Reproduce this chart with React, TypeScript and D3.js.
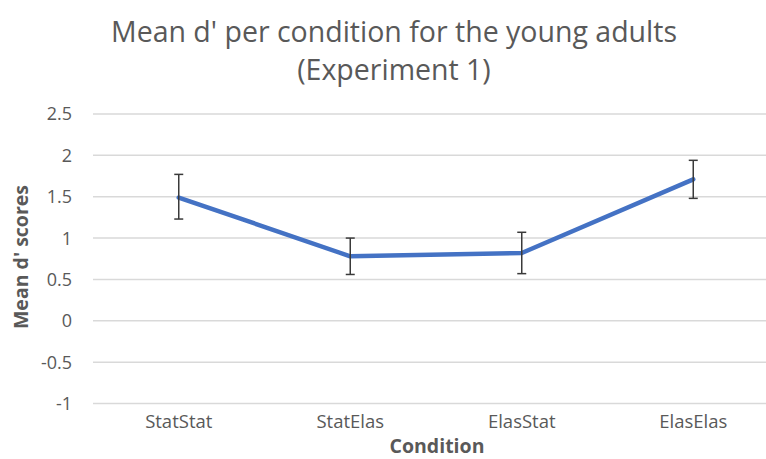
import React, { useEffect } from "react";
import * as d3 from "d3";

const categories = ["StatStat", "StatElas", "ElasStat", "ElasElas"];
const means = [1.49, 0.78, 0.82, 1.71];
const errLow = [1.23, 0.56, 0.57, 1.48];
const errHigh = [1.77, 1.0, 1.07, 1.94];
const yTicks = [-1, -0.5, 0, 0.5, 1, 1.5, 2, 2.5];
const titleLines = ["Mean d' per condition for the young adults", "(Experiment 1)"];
const xTitle = "Condition";
const yTitle = "Mean d' scores";

const W = 766;
const H = 459;
const FONT = "'Open Sans', sans-serif";
const TEXT = "#595959";

export default function App() {
  useEffect(() => {
    document.body.style.margin = "0";
  }, []);

  const x = d3.scaleBand<string>().domain(categories).range([93, 779]);
  const y = d3.scaleLinear().domain([-1, 2.5]).range([403.5, 114]);
  const cx = (c: string) => (x(c) as number) + x.bandwidth() / 2;

  const line = d3
    .line<number>()
    .x((_, i) => cx(categories[i]))
    .y((d) => y(d));

  return (
    <svg width={W} height={H} style={{ display: "block", background: "#fff" }}>
      <rect x={0} y={0} width={W} height={H} fill="#fff" />
      {titleLines.map((t, i) => (
        <text
          key={i}
          x={394}
          y={42 + i * 38}
          textAnchor="middle"
          fontFamily={FONT}
          fontSize={28.5}
          fill={TEXT}
        >
          {t}
        </text>
      ))}
      {yTicks.map((t) => (
        <g key={t}>
          <line x1={93} x2={W} y1={y(t)} y2={y(t)} stroke="#d9d9d9" strokeWidth={1.5} />
          <text
            x={72}
            y={y(t)}
            dy="0.36em"
            textAnchor="end"
            fontFamily={FONT}
            fontSize={18}
            fill={TEXT}
          >
            {t}
          </text>
        </g>
      ))}
      {categories.map((c) => (
        <text
          key={c}
          x={cx(c)}
          y={428}
          textAnchor="middle"
          fontFamily={FONT}
          fontSize={18.5}
          fill={TEXT}
        >
          {c}
        </text>
      ))}
      <text
        x={437}
        y={453}
        textAnchor="middle"
        fontFamily={FONT}
        fontSize={19.5}
        fontWeight="bold"
        fill={TEXT}
      >
        {xTitle}
      </text>
      <text
        transform={`translate(21,257) rotate(-90)`}
        textAnchor="middle"
        dy="0.35em"
        fontFamily={FONT}
        fontSize={19.5}
        fontWeight="bold"
        fill={TEXT}
      >
        {yTitle}
      </text>
      <path
        d={line(means) || ""}
        fill="none"
        stroke="#4472C4"
        strokeWidth={4.5}
        strokeLinejoin="round"
        strokeLinecap="round"
      />
      {categories.map((c, i) => (
        <g key={c} stroke="#3a3a3a" strokeWidth={1.5}>
          <line x1={cx(c)} x2={cx(c)} y1={y(errLow[i])} y2={y(errHigh[i])} />
          <line x1={cx(c) - 4.5} x2={cx(c) + 4.5} y1={y(errLow[i])} y2={y(errLow[i])} />
          <line x1={cx(c) - 4.5} x2={cx(c) + 4.5} y1={y(errHigh[i])} y2={y(errHigh[i])} />
        </g>
      ))}
    </svg>
  );
}
